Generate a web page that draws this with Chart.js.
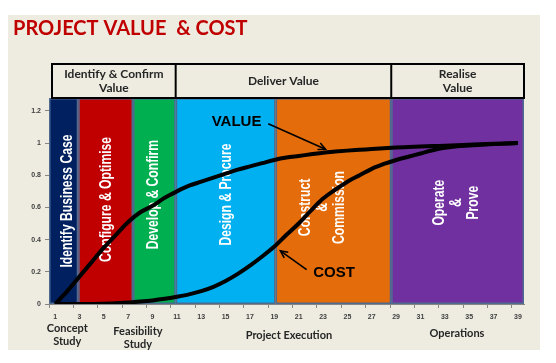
<!DOCTYPE html>
<html>
<head>
<meta charset="utf-8">
<script src="https://cdn.jsdelivr.net/npm/chart.js@4/dist/chart.umd.min.js"></script>
<style>
html,body{margin:0;padding:0;background:#ffffff;}
canvas{display:block;}
</style>
</head>
<body>
<canvas id="c" width="556" height="363"></canvas>
<script>
// ---- data ----
const categories = ['1','2','3','4','5','6','7','8','9','10','11','12','13','14','15','16','17','18','19','20','21','22','23','24','25','26','27','28','29','30','31','32','33','34','35','36','37','38','39'];
const valueSeries = [0.0,0.08,0.17,0.26,0.35,0.43,0.51,0.57,0.61,0.66,0.70,0.735,0.76,0.785,0.81,0.835,0.855,0.875,0.895,0.91,0.92,0.93,0.94,0.947,0.953,0.958,0.963,0.968,0.972,0.975,0.978,0.981,0.984,0.987,0.99,0.993,0.995,0.998,1.0];
const costSeries = [0.0,0.0,0.0,0.0,0.002,0.005,0.01,0.015,0.022,0.032,0.045,0.06,0.08,0.107,0.143,0.187,0.238,0.295,0.357,0.43,0.50,0.58,0.655,0.71,0.76,0.80,0.84,0.87,0.895,0.915,0.935,0.955,0.97,0.98,0.985,0.99,0.994,0.997,1.0];
const yTickValues = [0, 0.2, 0.4, 0.6, 0.8, 1, 1.2];
// phase bands (category positions, 1-based)
const phaseNames = [['Identify Business Case'],['Configure & Optimise'],['Develop & Confirm'],['Design & Procure'],['Construct','&','Commission'],['Operate','&','Prove']];
const phaseStart = [0.5, 2.9, 7.4, 10.9, 19.1, 28.6];
const phaseEnd   = [2.9, 7.4, 10.9, 19.1, 28.6, 39.5];
const phaseColors = ['#002060','#C00000','#00B050','#00B0F0','#E46C0A','#7030A0'];
const phaseLabelY = [0.64, 0.65, 0.68, 0.68, 0.60, 0.63];
const phaseLabelX = [2.0, 5.2, 9.1, 15.1, 23.0, 34.0];
// header groups
const stageNames = [['Identify & Confirm','Value'],['Deliver Value'],['Realise','Value']];
const stageStart = [0.5, 10.9, 28.6];
const stageEnd   = [10.9, 28.6, 39.5];
// bottom group labels
const studyNames = [['Concept','Study'],['Feasibility','Study'],['Project Execution'],['Operations']];
const studyCenter = [2.0, 7.8, 20.2, 34.0];

const bandPlugin = {
  id: 'bands',
  beforeDraw(chart) {
    const ctx = chart.ctx;
    ctx.save();
    ctx.fillStyle = '#EEECE1';
    ctx.fillRect(8, 15, 532, 335);
    // title
    ctx.fillStyle = '#C00000';
    ctx.font = 'bold 20px Lato';
    ctx.textBaseline = 'alphabetic';
    ctx.textAlign = 'left';
    ctx.fillText('PROJECT VALUE  & COST', 13, 35);
    ctx.restore();
  },
  beforeDatasetsDraw(chart) {
    const ctx = chart.ctx, xs = chart.scales.x, ys = chart.scales.y;
    const top = ys.getPixelForValue(ys.max), bot = ys.getPixelForValue(0);
    ctx.save();
    for (let i = 0; i < phaseColors.length; i++) {
      const x0 = xs.getPixelForValue(phaseStart[i] - 1);
      const x1 = xs.getPixelForValue(phaseEnd[i] - 1);
      ctx.fillStyle = phaseColors[i];
      ctx.fillRect(x0, top, x1 - x0, bot - top);
      ctx.strokeStyle = '#4F6A8F';
      ctx.lineWidth = 1.5;
      ctx.strokeRect(x0 + 0.75, top + 0.75, x1 - x0 - 1.5, bot - top - 1.5);
    }
    // band labels
    ctx.fillStyle = '#ffffff';
    ctx.font = 'bold 16px "Liberation Sans"';
    ctx.textAlign = 'center';
    ctx.textBaseline = 'middle';
    for (let i = 0; i < phaseNames.length; i++) {
      const cx = xs.getPixelForValue(phaseLabelX[i] - 1);
      const cy = ys.getPixelForValue(phaseLabelY[i]);
      const lines = phaseNames[i];
      ctx.save();
      ctx.translate(cx, cy);
      ctx.rotate(-Math.PI / 2);
      ctx.scale(0.76, 1);
      const n = lines.length;
      lines.forEach((t, k) => ctx.fillText(t, 0, (k - (n - 1) / 2) * 17));
      ctx.restore();
    }
    ctx.restore();
  },
  afterDraw(chart) {
    const ctx = chart.ctx, xs = chart.scales.x, ys = chart.scales.y;
    const top = chart.chartArea.top;
    ctx.save();
    // header box
    const hx0 = xs.getPixelForValue(stageStart[0] - 1) + 3;
    const hx1 = xs.getPixelForValue(stageEnd[stageEnd.length - 1] - 1);
    const hy0 = top - 34, hy1 = top;
    ctx.strokeStyle = '#000000';
    ctx.lineWidth = 2;
    ctx.strokeRect(hx0, hy0, hx1 - hx0, hy1 - hy0);
    ctx.fillStyle = '#262626';
    ctx.font = 'bold 12px Lato';
    ctx.textAlign = 'center';
    ctx.textBaseline = 'middle';
    for (let i = 0; i < stageNames.length; i++) {
      const a = Math.max(xs.getPixelForValue(stageStart[i] - 1), hx0);
      const b = xs.getPixelForValue(stageEnd[i] - 1);
      if (i > 0) {
        ctx.beginPath(); ctx.moveTo(a, hy0); ctx.lineTo(a, hy1); ctx.stroke();
      }
      const lines = stageNames[i];
      const cy = (hy0 + hy1) / 2;
      lines.forEach((t, k) => ctx.fillText(t, (a + b) / 2, cy + (k - (lines.length - 1) / 2) * 14));
    }
    // bottom group labels
    ctx.font = 'bold 11px Lato';
    ctx.fillStyle = '#262626';
    const baseY = [328, 331, 335, 333];
    for (let i = 0; i < studyNames.length; i++) {
      const cx = xs.getPixelForValue(studyCenter[i] - 1);
      studyNames[i].forEach((t, k) => ctx.fillText(t, cx, baseY[i] + k * 13.5));
    }
    // annotations
    ctx.fillStyle = '#000000';
    ctx.font = 'bold 15px "Liberation Sans"';
    const P = (c, v) => [xs.getPixelForValue(c - 1), ys.getPixelForValue(v)];
    let [tx, ty] = P(15.9, 1.13);
    ctx.fillText('VALUE', tx, ty);
    [tx, ty] = P(23.9, 0.195);
    ctx.fillText('COST', tx, ty);
    const arrow = (a, b) => {
      ctx.beginPath(); ctx.moveTo(a[0], a[1]); ctx.lineTo(b[0], b[1]);
      ctx.lineWidth = 1.6; ctx.strokeStyle = '#000'; ctx.stroke();
      const ang = Math.atan2(b[1] - a[1], b[0] - a[0]);
      const L = 8, w = 0.45;
      ctx.beginPath();
      ctx.moveTo(b[0] - L * Math.cos(ang - w), b[1] - L * Math.sin(ang - w));
      ctx.lineTo(b[0], b[1]);
      ctx.lineTo(b[0] - L * Math.cos(ang + w), b[1] - L * Math.sin(ang + w));
      ctx.stroke();
    };
    arrow(P(18.5, 1.12), P(23.2, 0.962));
    arrow(P(21.65, 0.213), P(19.5, 0.33));
    ctx.restore();
  }
};

new Chart(document.getElementById('c'), {
  type: 'line',
  data: {
    labels: categories,
    datasets: [
      { label: 'VALUE', data: valueSeries, borderColor: '#000', borderWidth: 4, pointRadius: 0, tension: 0.4, cubicInterpolationMode: 'monotone', fill: false },
      { label: 'COST', data: costSeries, borderColor: '#000', borderWidth: 4, pointRadius: 0, tension: 0.4, cubicInterpolationMode: 'monotone', fill: false }
    ]
  },
  options: {
    responsive: false,
    devicePixelRatio: 1,
    animation: false,
    layout: { padding: { left: 8, right: 32, top: 98, bottom: 0 } },
    plugins: { legend: { display: false }, title: { display: false }, tooltip: { enabled: false } },
    scales: {
      x: {
        type: 'category',
        offset: true,
        afterFit: s => { s.height = 59; },
        grid: { offset: true, drawOnChartArea: false, drawTicks: true, tickLength: 4,
                color: c => (c.index % 2 === 0 ? '#868686' : 'rgba(0,0,0,0)') },
        border: { display: true, color: '#868686', width: 1 },
        ticks: { autoSkip: false, maxRotation: 0, padding: 5, color: '#404040',
                 font: { family: '"Liberation Sans"', size: 7, weight: 'bold' },
                 callback: (v, i) => (i % 2 === 0 ? categories[i] : '') }
      },
      y: {
        min: 0, max: 1.28,
        afterFit: s => { s.width = 41; },
        afterBuildTicks: s => { s.ticks = yTickValues.map(v => ({ value: v })); },
        grid: { drawOnChartArea: false, drawTicks: true, tickLength: 4, color: '#868686' },
        border: { display: true, color: '#868686', width: 1 },
        ticks: { padding: 4, color: '#404040',
                 font: { family: '"Liberation Sans"', size: 7, weight: 'bold' },
                 callback: v => String(Number(v.toFixed(1))) }
      }
    }
  },
  plugins: [bandPlugin]
});
</script>
</body>
</html>
